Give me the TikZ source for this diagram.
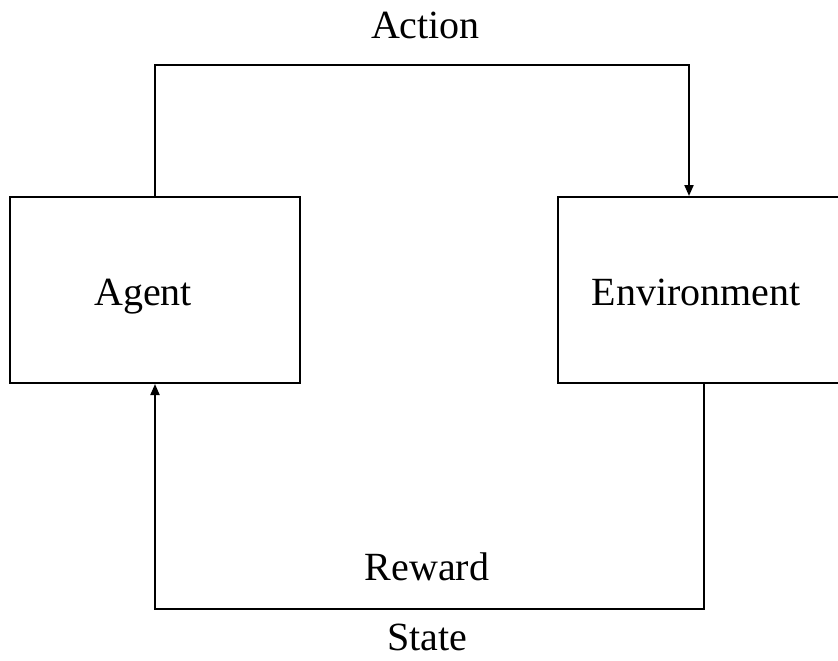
\documentclass[tikz,border=0pt]{standalone}
\usepackage{fontspec}
\setmainfont{Liberation Serif}
\usetikzlibrary{positioning, arrows.meta}
\tikzset{
	->,
	>={Triangle[length=11pt,width=9pt]},
	box/.style={draw, rectangle, inner sep=0pt, minimum height=186pt},
	txt/.style={anchor=base, inner sep=0pt, font=\fontsize{40}{46}\selectfont}}

\begin{document}
\begin{tikzpicture}[x=1pt, y=-1pt, line width=2pt]
		\useasboundingbox (0,0) rectangle (838,661);
		%boxes
		\node[box, minimum width=290pt] (agent) at (155,290) {};
		\node[box, minimum width=287pt] (env) at (701.5,290) {};
		\node[txt] (agentText) at (143,305) {Agent};
		\node[txt] (envText) at (696,305) {Environment};
		
		%labels
		\node[txt] (action) at (425.5,39) {Action};
		\node[txt] (reward) at (427,580) {Reward};
		\node[txt] (state) at (427,650) {State};
		
		\draw (agent.north) -- ++(0,-131) -| ([xshift=-12.5pt]env.north);
		\draw ([xshift=2.5pt]env.south) -- ++(0,225) -| (agent.south);
	\end{tikzpicture}
\end{document}
